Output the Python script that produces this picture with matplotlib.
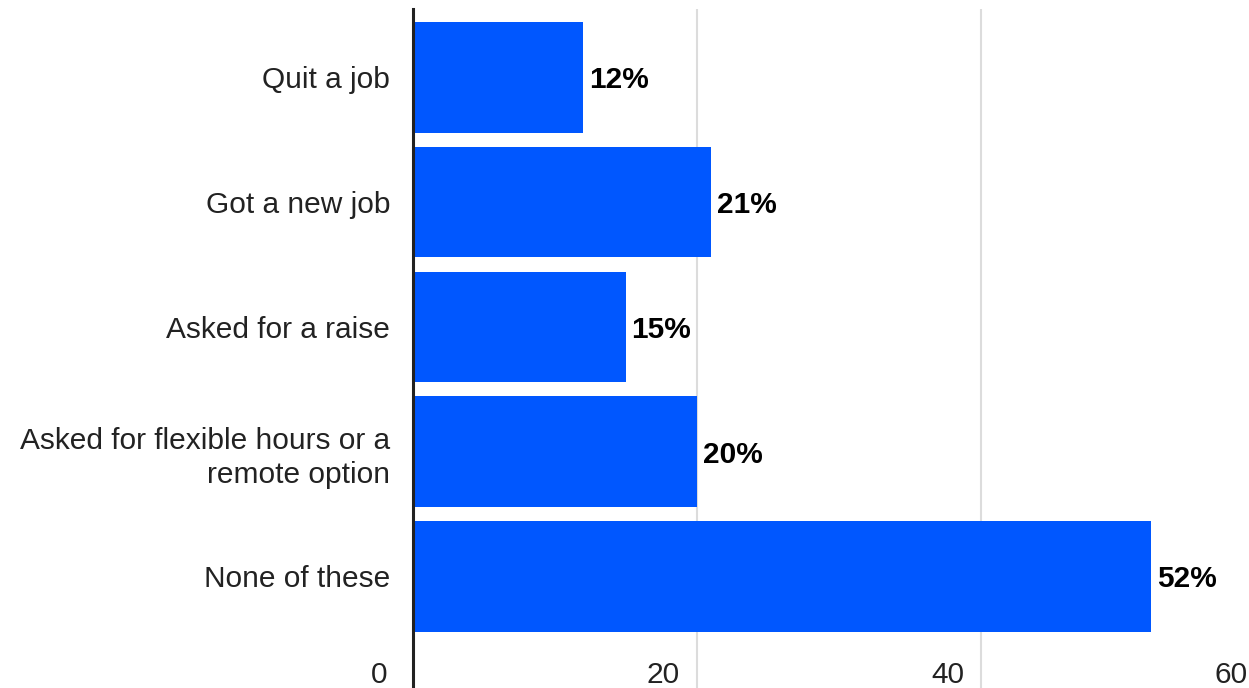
"""
Horizontal bar chart: what people did about their job in the last year.
"""

import matplotlib.pyplot as plt

# data, top to bottom
categories = [
    "Quit a job",
    "Got a new job",
    "Asked for a raise",
    "Asked for flexible hours or a\nremote option",
    "None of these",
]
values = [12, 21, 15, 20, 52]
value_labels = ["12%", "21%", "15%", "20%", "52%"]
x_ticks = [0, 20, 40, 60]

BAR_COLOR = "#0057ff"
TEXT_COLOR = "#222222"
GRID_COLOR = "#dcdcdc"
FONT_SIZE = 21.5

plt.rcParams["font.family"] = ["Liberation Sans", "DejaVu Sans"]

W, H, DPI = 1249, 688, 100
fig = plt.figure(figsize=(W / DPI, H / DPI), dpi=DPI)

# axes placed in pixel terms; the right end (60) runs past the figure edge
left_px, top_px, x60_px = 413, 9, 1265
ax = fig.add_axes([left_px / W, 0, (x60_px - left_px) / W, 1 - top_px / H])

y = list(range(len(categories)))
bars = ax.barh(y, values, height=0.886, color=BAR_COLOR, zorder=2)

ax.set_xlim(0, 60)
ax.set_ylim(4.894, -0.549)

# value labels at the bar ends
texts = ax.bar_label(bars, labels=value_labels, padding=4, fontsize=FONT_SIZE,
                     fontweight="bold", color="black")
for t in texts:
    t.set_va("center_baseline")

# category labels
ax.set_yticks(y)
ax.set_yticklabels(categories, fontsize=FONT_SIZE, color=TEXT_COLOR,
                   linespacing=1.3)
ax.tick_params(axis="y", length=0, pad=16.5)

# vertical gridlines, x labels drawn inside the bottom of the plot
ax.set_xticks(x_ticks)
ax.set_xticklabels([])
ax.tick_params(axis="x", length=0)
ax.grid(axis="x", color=GRID_COLOR, linewidth=1.5, zorder=0)
ax.set_axisbelow(True)
for t in x_ticks:
    dx = -26 if t == 0 else -17
    ax.annotate(str(t), xy=(t, 0), xycoords=("data", "axes fraction"),
                xytext=(dx, 5), textcoords="offset pixels",
                ha="right", va="baseline", fontsize=FONT_SIZE,
                color=TEXT_COLOR, annotation_clip=False)

for side in ["top", "right", "bottom"]:
    ax.spines[side].set_visible(False)
ax.spines["left"].set_color(TEXT_COLOR)
ax.spines["left"].set_linewidth(2.2)
ax.spines["left"].set_zorder(3)

fig.savefig("out.png", dpi=DPI)
